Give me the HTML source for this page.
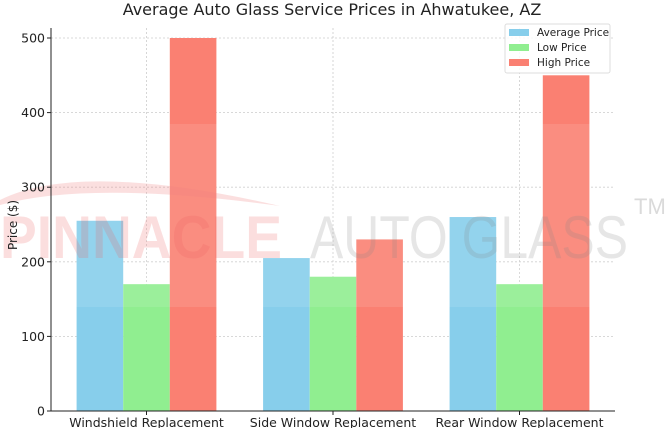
<!DOCTYPE html>
<html><head><meta charset="utf-8"><style>
html,body{margin:0;padding:0;background:#fff}
svg{display:block;font-family:"DejaVu Sans","Liberation Sans",sans-serif}
</style></head><body>
<svg id="chart" width="665" height="428" viewBox="0 0 665 428" xmlns="http://www.w3.org/2000/svg">
<g id="grid"></g>
<g id="bars"></g>
<rect x="51" y="124" width="564" height="183" fill="#fff" opacity="0.1"/>
<g>
<path d="M0,200 Q80,160 280,206 Q90,180 0,205 Z" fill="#f08080" opacity="0.25"/>
<text x="0" y="258" font-family="Liberation Sans" font-weight="bold" font-size="60" textLength="282" lengthAdjust="spacingAndGlyphs" fill="#f06060" opacity="0.2">PINNACLE</text>
<text x="310" y="258" font-family="Liberation Sans" font-size="60" textLength="318" lengthAdjust="spacingAndGlyphs" fill="#888" opacity="0.2">AUTO GLASS</text>
<text x="634" y="214" font-family="Liberation Sans" font-size="22" fill="#888" opacity="0.3">TM</text>
</g>
<g id="axes"></g>
<text x="332" y="15" text-anchor="middle" font-size="16" fill="#222">Average Auto Glass Service Prices in Ahwatukee, AZ</text>
<text transform="translate(17,225) rotate(-90)" text-anchor="middle" font-size="12" fill="#222">Price ($)</text>
<g>
<rect x="505" y="24" width="105" height="49" fill="#fff" fill-opacity="0.85" stroke="#ddd" rx="2"/>
<g><rect x="509" y="29" width="20" height="7" fill="#87ceeb"/><text x="537" y="36" font-size="10.5" fill="#222">Average Price</text></g>
<g><rect x="509" y="44" width="20" height="7" fill="#90ee90"/><text x="537" y="51" font-size="10.5" fill="#222">Low Price</text></g>
<g><rect x="509" y="59" width="20" height="7" fill="#fa8072"/><text x="537" y="66" font-size="10.5" fill="#222">High Price</text></g>
</g>
</svg>
<script>
const categories = ["Windshield Replacement","Side Window Replacement","Rear Window Replacement"];
const avgPrices = [255,205,260];
const lowPrices = [170,180,170];
const highPrices = [500,230,450];
const yTicks = [0,100,200,300,400,500];
const NS="http://www.w3.org/2000/svg";
const x0=51,x1=615,yBase=411,pxPer=0.746;
const groupStart=146.5,groupStep=186.5,barW=46.6;
function yScale(v){return yBase-v*pxPer;}
function xCenter(i){return groupStart+i*groupStep;}
function mk(tag,attrs,parent){const e=document.createElementNS(NS,tag);for(const k in attrs)e.setAttribute(k,attrs[k]);parent.appendChild(e);return e;}
const grid=document.getElementById('grid'),bars=document.getElementById('bars'),axes=document.getElementById('axes');
yTicks.forEach(t=>{
  const y=yScale(t);
  if(t>0){const l=mk('line',{x1:x0,x2:x1,y1:y,y2:y,stroke:'#ccc','stroke-dasharray':'2,2','stroke-width':0.8},grid);
  
  }
  const tk=mk('line',{x1:x0-4,x2:x0,y1:y,y2:y,stroke:'#222'},axes);
  
  
  const tx=mk('text',{x:x0-6,y:y+4.5,'text-anchor':'end','font-size':12.5,fill:'#222'},axes);
  tx.textContent=t;
  
  
});
categories.forEach((c,i)=>{
  const cx=xCenter(i);
  const g=mk('line',{x1:cx,x2:cx,y1:28,y2:yBase,stroke:'#ccc','stroke-dasharray':'2,2','stroke-width':0.8},grid);
  
  
  [[avgPrices,'#87ceeb','avg'],[lowPrices,'#90ee90','low'],[highPrices,'#fa8072','high']].forEach((s,j)=>{
    const v=s[0][i];
    const r=mk('rect',{x:cx+(j-1.5)*barW,y:yScale(v),width:barW,height:v*pxPer,fill:s[1]},bars);
    
    
  });
  const tk=mk('line',{x1:cx,x2:cx,y1:yBase,y2:yBase+4,stroke:'#222'},axes);
  
  
  const tx=mk('text',{x:cx,y:yBase+16,'text-anchor':'middle','font-size':12.5,fill:'#222'},axes);
  tx.textContent=c;
  
  
});
const ly=mk('line',{x1:x0,x2:x0,y1:28,y2:yBase,stroke:'#222','stroke-width':1},axes);


const lx=mk('line',{x1:x0,x2:x1,y1:yBase,y2:yBase,stroke:'#222','stroke-width':1},axes);


</script>
</body></html>
